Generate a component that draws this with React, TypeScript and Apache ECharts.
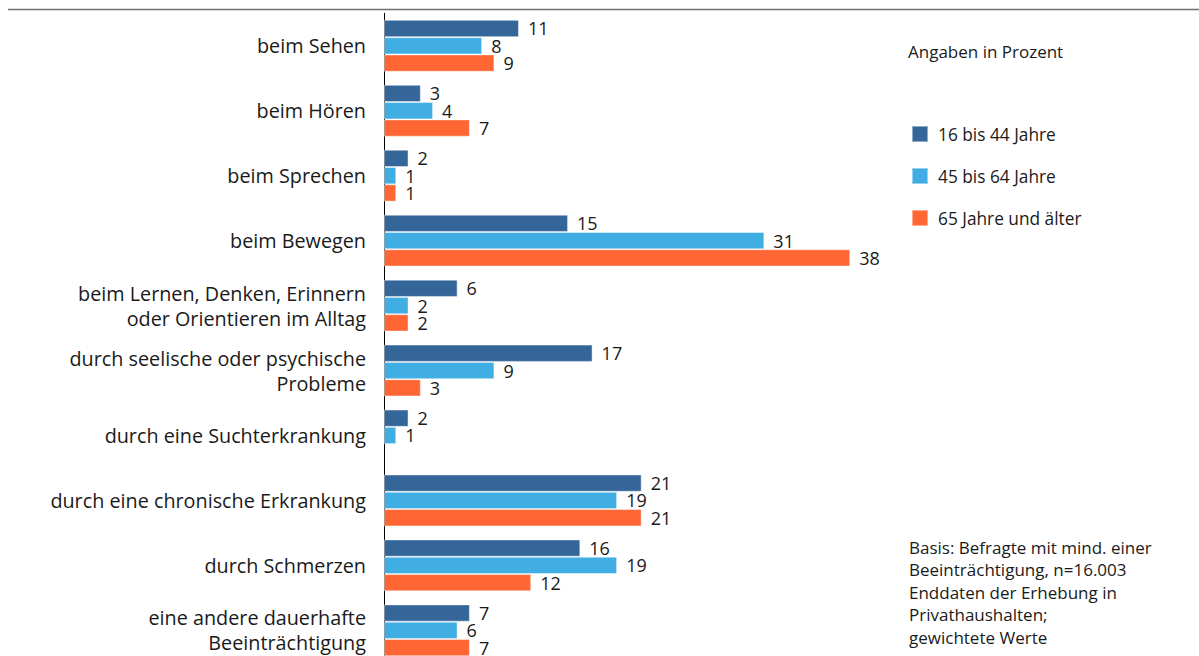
import React, { useEffect, useRef } from "react";
import * as echarts from "echarts";

const categories = [
  "beim Sehen",
  "beim Hören",
  "beim Sprechen",
  "beim Bewegen",
  "beim Lernen, Denken, Erinnern\noder Orientieren im Alltag",
  "durch seelische oder psychische\nProbleme",
  "durch eine Suchterkrankung",
  "durch eine chronische Erkrankung",
  "durch Schmerzen",
  "eine andere dauerhafte\nBeeinträchtigung",
];
const seriesNames = ["16 bis 44 Jahre", "45 bis 64 Jahre", "65 Jahre und älter"];
const age16to44 = [11, 3, 2, 15, 6, 17, 2, 21, 16, 7];
const age45to64 = [8, 4, 1, 31, 2, 9, 1, 19, 19, 6];
const age65plus = [9, 7, 1, 38, 2, 3, null, 21, 12, 7];
const colors = ["#346699", "#40aee3", "#ff6633"];
const unitNote = "Angaben in Prozent";
const sourceNote =
  "Basis: Befragte mit mind. einer\nBeeinträchtigung, n=16.003\nEnddaten der Erhebung in\nPrivathaushalten;\ngewichtete Werte";

const FONT = "Open Sans";

export default function App() {
  const ref = useRef<HTMLDivElement>(null);
  useEffect(() => {
    document.body.style.margin = "0";
    document.body.style.overflow = "hidden";
    const chart = echarts.init(ref.current!, null, { renderer: "svg" });
    const data = [age16to44, age45to64, age65plus];
    chart.setOption({
      animation: false,
      textStyle: { fontFamily: FONT },
      grid: { left: 384, top: 13.3, width: 613.5, height: 649.5, containLabel: false },
      xAxis: {
        type: "value",
        min: 0,
        max: 50,
        show: false,
      },
      yAxis: {
        type: "category",
        data: categories,
        inverse: true,
        axisLine: { show: true, lineStyle: { color: "#000", width: 1 } },
        axisTick: { show: false },
        axisLabel: {
          margin: 18,
          color: "#1a1a1a",
          fontSize: 19.8,
          fontFamily: FONT,
          lineHeight: 25,
          align: "right",
        },
      },
      legend: {
        orient: "vertical",
        left: 911,
        top: 125,
        padding: 0,
        itemWidth: 16,
        itemHeight: 16,
        itemGap: 24,
        icon: "rect",
        textStyle: {
          fontSize: 17.3,
          lineHeight: 16,
          color: "#1a1a1a",
          fontFamily: FONT,
          padding: [0, 0, 0, 5],
        },
        data: seriesNames,
      },
      graphic: [
        {
          type: "line",
          shape: { x1: 8, y1: 9.5, x2: 1199, y2: 9.5 },
          style: { stroke: "#707070", lineWidth: 1.5 },
        },
        {
          type: "text",
          left: 908,
          top: 43,
          style: { text: unitNote, fontSize: 17, fill: "#1a1a1a", fontFamily: FONT },
        },
        {
          type: "text",
          left: 909,
          top: 536,
          style: { text: sourceNote, fontSize: 17, lineHeight: 22.5, fill: "#1a1a1a", fontFamily: FONT },
        },
      ],
      series: data.map((d, i) => ({
        name: seriesNames[i],
        type: "bar",
        data: d,
        barWidth: 17.3,
        barGap: "0%",
        itemStyle: { color: colors[i], borderColor: "rgba(255,255,255,0.45)", borderWidth: 1 },
        label: {
          show: true,
          position: "right",
          distance: 9,
          fontSize: 18,
          lineHeight: 17,
          color: "#1a1a1a",
          fontFamily: FONT,
        },
      })),
    });
    return () => chart.dispose();
  }, []);
  return <div ref={ref} style={{ width: 1199, height: 680 }} />;
}
